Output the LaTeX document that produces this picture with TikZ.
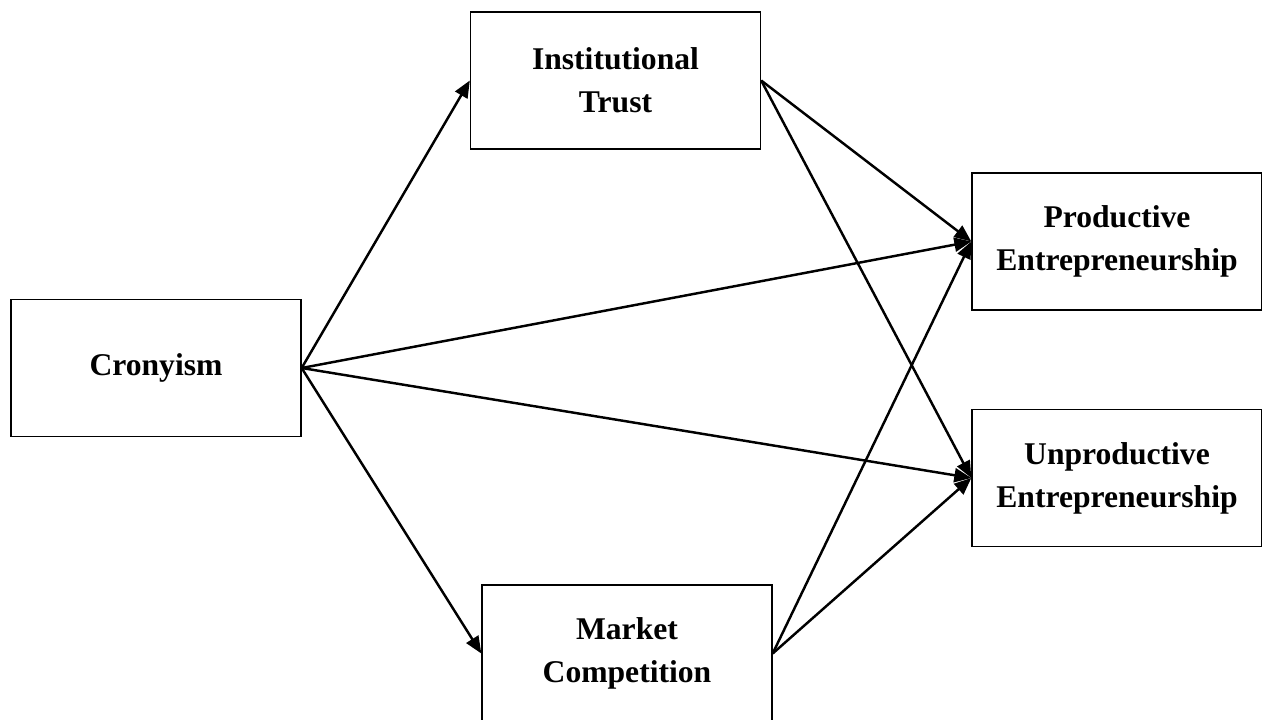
\documentclass[tikz,border=0pt]{standalone}
\usepackage{fontspec}
\setmainfont{Liberation Serif}
\usetikzlibrary{arrows.meta}
\begin{document}
\begin{tikzpicture}[x=0.02cm, y=-0.02cm,
  box/.style={draw, line width=0.8pt, minimum width=5.8cm, minimum height=2.74cm,
    align=center, font=\fontsize{18}{24.5}\selectfont\bfseries},
  link/.style={line width=1.4pt, -{Triangle[length=0.34cm, width=0.28cm]}}]
  \useasboundingbox (0,0) rectangle (1262,720);

  \node[box] (cron) at (156,368) {Cronyism};
  \node[box] (trust) at (615.5,80.5) {Institutional\\Trust};
  \node[box] (market) at (627,653.5) {Market\\Competition};
  \node[box] (prod) at (1117,241.5) {Productive\\Entrepreneurship};
  \node[box] (unprod) at (1117,478) {Unproductive\\Entrepreneurship};

  \draw[link] (cron.east) -- (trust.west);
  \draw[link] (cron.east) -- (market.west);
  \draw[link] (cron.east) -- (prod.west);
  \draw[link] (cron.east) -- (unprod.west);

  \draw[link] (trust.east) -- (prod.west);
  \draw[link] (trust.east) -- (unprod.west);
  \draw[link] (market.east) -- (prod.west);
  \draw[link] (market.east) -- (unprod.west);

\end{tikzpicture}
\end{document}
